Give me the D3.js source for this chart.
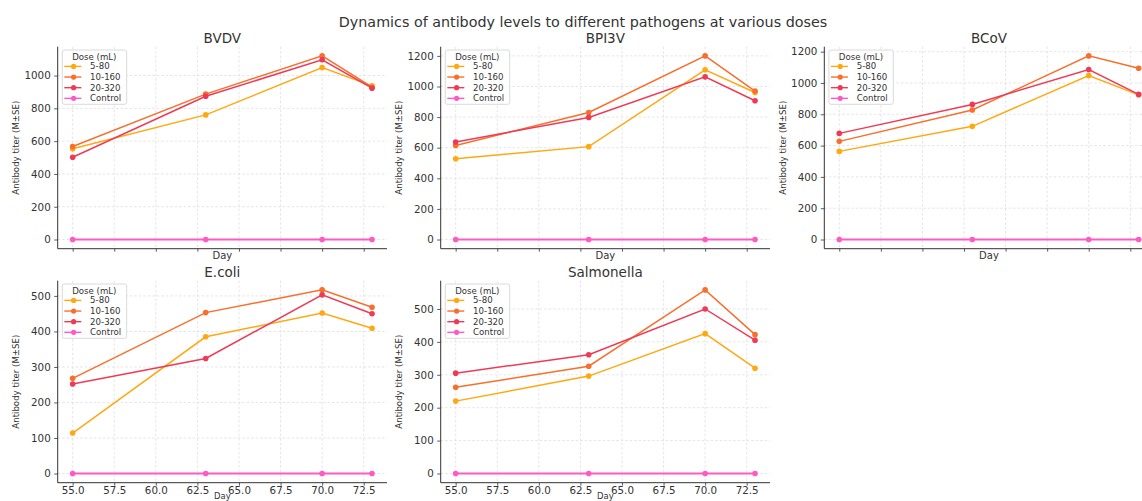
<!DOCTYPE html>
<html>
<head>
<meta charset="utf-8">
<script src="https://cdn.jsdelivr.net/npm/d3@7"></script>
<style>
  html, body { margin: 0; padding: 0; background: #fff; }
  svg { display: block; font-family: "DejaVu Sans", sans-serif; }
</style>
</head>
<body>
<svg id="chart" width="1142" height="501"></svg>
<script>
// Sampling days
const days = [55, 63, 70, 73];

// Dose groups
const doses = ["5-80", "10-160", "20-320", "Control"];
const doseColors = ["#ffa812", "#f86f2c", "#f03a55", "#ff5ac4"];

// Pathogens (panel order)
const pathogens = ["BVDV", "BPI3V", "BCoV", "E.coli", "Salmonella"];

// Antibody titers per pathogen, one array per dose group (days 55, 63, 70, 73)
const bvdv5_80 = [553, 760, 1049, 937];
const bvdv10_160 = [567, 887, 1120, 929];
const bvdv20_320 = [502, 874, 1096, 923];

const bpi3v5_80 = [528, 607, 1109, 961];
const bpi3v10_160 = [615, 830, 1200, 970];
const bpi3v20_320 = [637, 798, 1063, 907];

const bcov5_80 = [563, 723, 1047, 924];
const bcov10_160 = [627, 827, 1173, 1094];
const bcov20_320 = [678, 863, 1086, 927];

const ecoli5_80 = [114, 385, 452, 409];
const ecoli10_160 = [268, 453, 517, 468];
const ecoli20_320 = [252, 324, 503, 450];

const salm5_80 = [220, 296, 425, 320];
const salm10_160 = [262, 326, 558, 422];
const salm20_320 = [305, 361, 500, 405];

const control = [0, 0, 0, 0];

// Y tick values for each panel
const yTicksBVDV = [0, 200, 400, 600, 800, 1000];
const yTicksBPI3V = [0, 200, 400, 600, 800, 1000, 1200];
const yTicksBCoV = [0, 200, 400, 600, 800, 1000, 1200];
const yTicksEcoli = [0, 100, 200, 300, 400, 500];
const yTicksSalm = [0, 100, 200, 300, 400, 500];

// X tick values (shared)
const xTicks = [55, 57.5, 60, 62.5, 65, 67.5, 70, 72.5];

const chartTitle = "Dynamics of antibody levels to different pathogens at various doses";
const xLabel = "Day";
const yLabel = "Antibody titer (M±SE)";
const legendTitle = "Dose (mL)";

const panels = [
  { name: pathogens[0], series: [bvdv5_80, bvdv10_160, bvdv20_320, control], yTicks: yTicksBVDV, col: 0, row: 0 },
  { name: pathogens[1], series: [bpi3v5_80, bpi3v10_160, bpi3v20_320, control], yTicks: yTicksBPI3V, col: 1, row: 0 },
  { name: pathogens[2], series: [bcov5_80, bcov10_160, bcov20_320, control], yTicks: yTicksBCoV, col: 2, row: 0 },
  { name: pathogens[3], series: [ecoli5_80, ecoli10_160, ecoli20_320, control], yTicks: yTicksEcoli, col: 0, row: 1 },
  { name: pathogens[4], series: [salm5_80, salm10_160, salm20_320, control], yTicks: yTicksSalm, col: 1, row: 1 }
];

// Layout
const colLeft = [57.7, 440.7, 824.3];
const rowTop = [46.7, 280.7];
const axW = 329.3, axH = 202;
const textColor = "#333";
const gridColor = "#dedede";

const svg = d3.select("#chart");

svg.append("text")
  .attr("x", 583).attr("y", 26.5)
  .attr("text-anchor", "middle")
  .attr("font-size", 14.3)
  .attr("fill", textColor)
  .text(chartTitle);

// Padded extent, 5% on both sides
function padded(ext) {
  const r = ext[1] - ext[0];
  return [ext[0] - 0.05 * r, ext[1] + 0.05 * r];
}

const xDomain = padded(d3.extent(days));

panels.forEach(p => {
  const left = colLeft[p.col], top = rowTop[p.row];
  const g = svg.append("g").attr("transform", `translate(${left},${top})`);

  const allVals = p.series.flat();
  const x = d3.scaleLinear().domain(xDomain).range([0, axW]);
  const y = d3.scaleLinear().domain(padded(d3.extent(allVals))).range([axH, 0]);

  // Grid
  const grid = g.append("g");
  grid.selectAll(".gx").data(xTicks).join("line")
    .attr("x1", d => x(d)).attr("x2", d => x(d))
    .attr("y1", 0).attr("y2", axH)
    .attr("stroke", gridColor).attr("stroke-width", 0.8)
    .attr("stroke-dasharray", "2.5,2");
  grid.selectAll(".gy").data(p.yTicks).join("line")
    .attr("x1", 0).attr("x2", axW)
    .attr("y1", d => y(d)).attr("y2", d => y(d))
    .attr("stroke", gridColor).attr("stroke-width", 0.8)
    .attr("stroke-dasharray", "2.5,2");

  // Axes
  const xAxis = d3.axisBottom(x).tickValues(xTicks).tickSize(3).tickPadding(0.5)
    .tickFormat(p.row === 1 ? d3.format(".1f") : () => "");
  const yAxis = d3.axisLeft(y).tickValues(p.yTicks).tickSize(3.5).tickPadding(3.5)
    .tickFormat(d3.format("d"));

  const gx = g.append("g").attr("transform", `translate(0,${axH})`).call(xAxis);
  const gy = g.append("g").call(yAxis);
  [gx, gy].forEach(a => {
    a.select(".domain").attr("stroke", textColor).attr("stroke-width", 1);
    a.selectAll(".tick line").attr("stroke", textColor).attr("stroke-width", 0.8);
    a.selectAll(".tick text").attr("fill", textColor).attr("font-size", 10.3)
      .attr("font-family", "DejaVu Sans, sans-serif");
  });
  // Keep only the left and bottom spines: trim domain end caps
  gx.select(".domain").attr("d", `M0,0H${axW}`);
  gy.select(".domain").attr("d", `M0,0V${axH}`);

  // Titles and labels
  g.append("text").attr("x", axW / 2).attr("y", -4)
    .attr("text-anchor", "middle").attr("font-size", 13.5).attr("fill", textColor)
    .text(p.name);
  g.append("text").attr("x", axW / 2).attr("y", p.row === 0 ? axH + 10.5 : axH + 16.6)
    .attr("text-anchor", "middle").attr("font-size", p.row === 0 ? 10 : 8.4)
    .attr("fill", textColor)
    .text(xLabel);
  g.append("text")
    .attr("transform", `translate(${-38.5},${axH / 2}) rotate(-90)`)
    .attr("text-anchor", "middle").attr("font-size", 8.6).attr("fill", textColor)
    .text(yLabel);

  // Lines and markers
  const line = d3.line().x((d, i) => x(days[i])).y(d => y(d));
  p.series.forEach((vals, si) => {
    const sg = g.append("g");
    sg.append("path").datum(vals)
      .attr("d", line).attr("fill", "none")
      .attr("stroke", doseColors[si]).attr("stroke-width", si === 3 ? 2 : 1.5);
    sg.selectAll("circle").data(vals).join("circle")
      .attr("cx", (d, i) => x(days[i])).attr("cy", d => y(d))
      .attr("r", 2.8).attr("fill", doseColors[si]);
  });

  // Legend
  const lg = g.append("g").attr("transform", "translate(4.6,3.3)");
  lg.append("rect").attr("width", 64.4).attr("height", 54.3).attr("rx", 2)
    .attr("fill", "#fff").attr("fill-opacity", 0.85)
    .attr("stroke", "#d0d0d0").attr("stroke-width", 0.8);
  lg.append("text").attr("x", 32).attr("y", 9.5).attr("text-anchor", "middle")
    .attr("font-size", 8.6).attr("fill", textColor).text(legendTitle);
  doses.forEach((d, i) => {
    const yy = 16.4 + i * 10.65;
    lg.append("line").attr("x1", 2).attr("x2", 19).attr("y1", yy).attr("y2", yy)
      .attr("stroke", doseColors[i]).attr("stroke-width", 1.4);
    lg.append("circle").attr("cx", 11.3).attr("cy", yy).attr("r", 2.6).attr("fill", doseColors[i]);
    lg.append("text").attr("x", 27.8).attr("y", yy + 3).attr("font-size", 8.6)
      .attr("fill", textColor).text(d);
  });
});
</script>
</body>
</html>
